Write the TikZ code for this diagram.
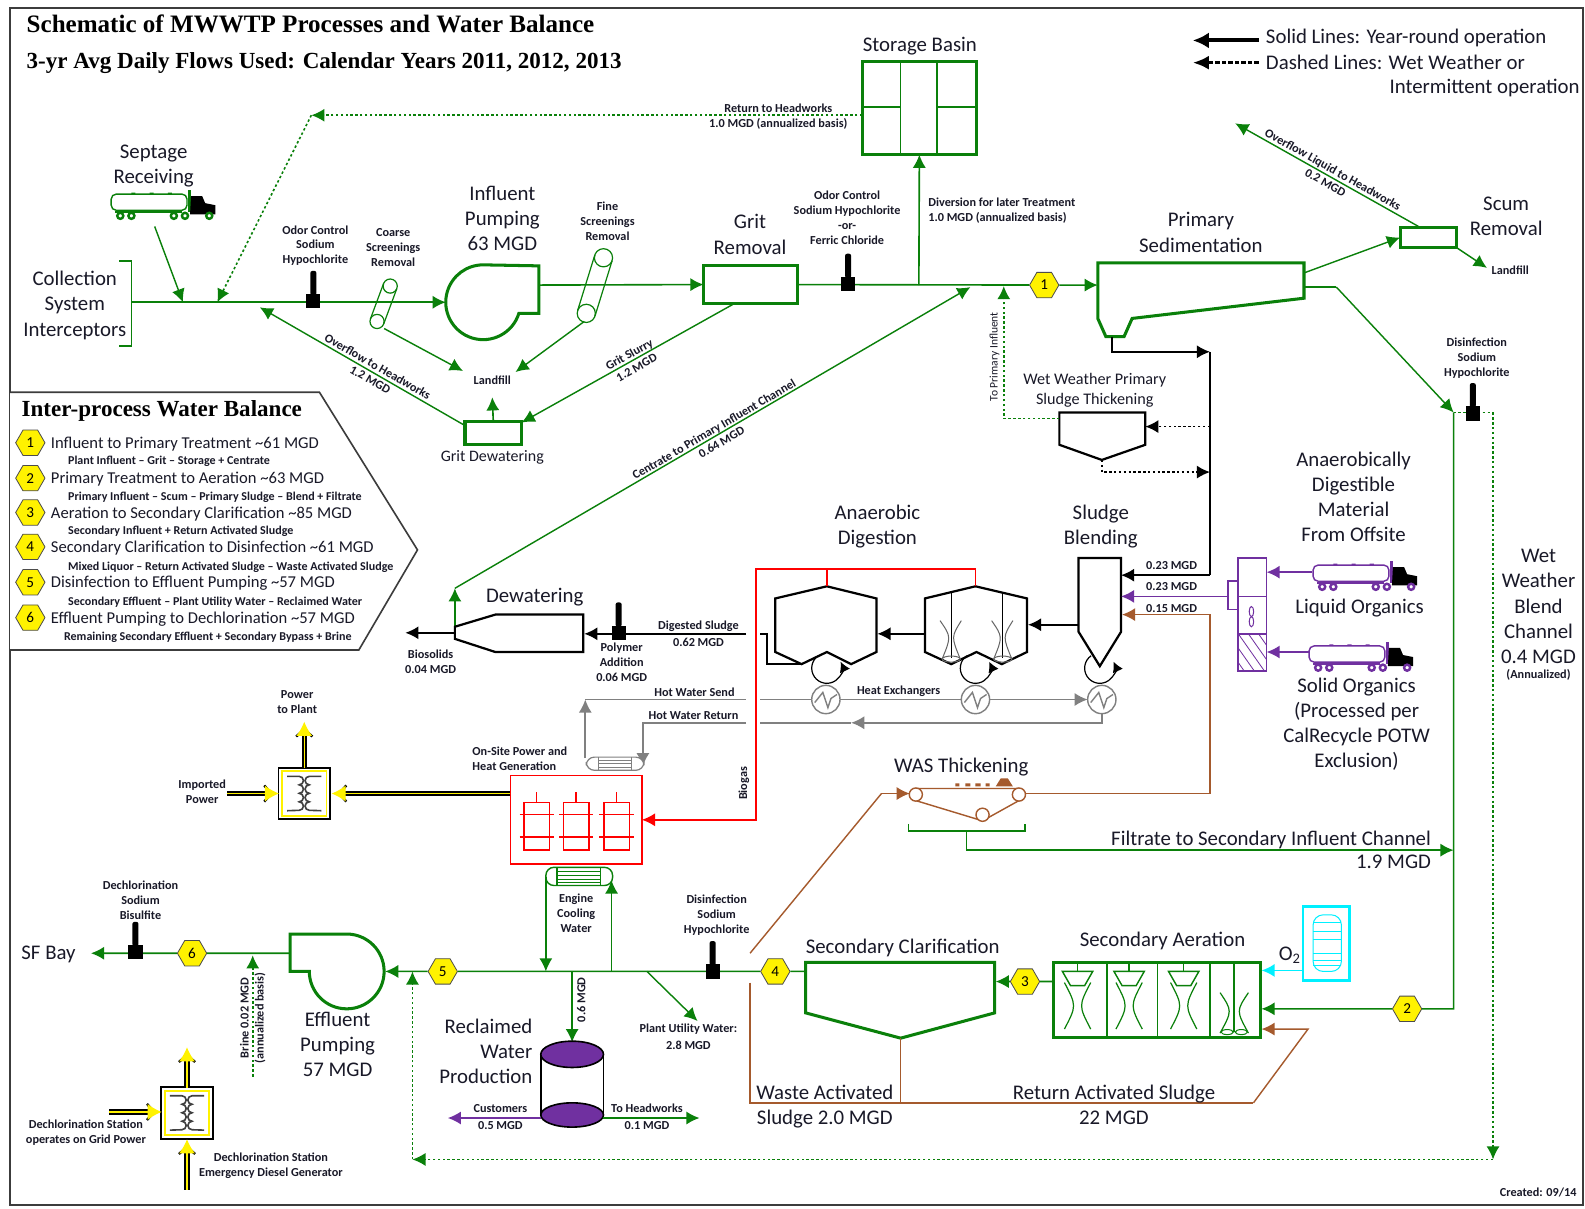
\documentclass[tikz,border=0pt]{standalone}
\usepackage{fontspec}
\setmainfont{Carlito}
\newfontfamily\serifbf{Liberation Serif}
\usetikzlibrary{arrows.meta,shapes.geometric,calc}
\definecolor{gn}{RGB}{10,128,10}
\definecolor{br}{RGB}{165,90,45}
\definecolor{pu}{RGB}{112,48,160}
\definecolor{gy}{RGB}{128,128,128}
\definecolor{ink}{RGB}{25,25,40}
\definecolor{frame}{RGB}{60,60,60}
\definecolor{cy}{RGB}{0,240,255}
\newcommand\bigf{\fontsize{10.3}{12.5}\selectfont}
\newcommand\midf{\fontsize{8.2}{9}\selectfont}
\newcommand\subf{\fontsize{5.95}{7.3}\selectfont\bfseries}
\newcommand\smf{\fontsize{6.05}{7.4}\selectfont\bfseries}
\tikzset{
 big/.style={font=\bigf,align=center,inner sep=0,text=ink},
 sm/.style={font=\smf,align=center,inner sep=0,text=ink},
 midt/.style={font=\midf,anchor=west,inner sep=0,text=ink,yshift=-.7pt},
 subt/.style={font=\subf,anchor=west,inner sep=0,text=ink,yshift=-.7pt},
 hexn/.style={shape=regular polygon,regular polygon sides=6,draw=black!70,line width=.4pt,fill=yellow,minimum size=14.5pt,inner sep=0,font=\fontsize{7.5}{8}\selectfont},
 gbox/.style={draw=gn,line width=1.5pt,inner sep=0,outer sep=0,fill=white},
 tip/.style={-{Latex[length=6.5pt,width=6.5pt]}},
 gl/.style={draw=gn,line width=.8pt},
 ga/.style={gl,tip},
 gd/.style={draw=gn,line width=.8pt,dash pattern=on 1.2pt off 1.2pt},
 gda/.style={gd,tip},
 bl/.style={draw=black,line width=.8pt},
 ba/.style={bl,tip},
 bd/.style={draw=black,line width=.8pt,dash pattern=on 1.2pt off 1.2pt,tip},
 rl/.style={draw=red,line width=.8pt},
 bra/.style={draw=br,line width=.7pt},
 pl/.style={draw=pu,line width=.8pt},
 gyl/.style={draw=gy,line width=.8pt},
 gb/.style={draw=gn,line width=1.5pt},
 kb/.style={draw=black,line width=1.1pt},
}
\newcommand\injector[2]{\begin{scope}[shift={(#1,#2)}]
 \fill[black] (-7,0) rectangle (7,-14);
 \fill[black,rounded corners=1pt] (-3,-13) -- (-3,-37) -- (3,-37) -- (3,-13) -- cycle;
\end{scope}}
\newcommand\conveyor[7]{%
 \draw[gl,line width=.6pt] (#1,#2) circle[radius=#5] (#3,#4) circle[radius=#5];
 \draw[gl,line width=.6pt] ({#1+#6},{#2+#7}) -- ({#3+#6},{#4+#7}) ({#1-#6},{#2-#7}) -- ({#3-#6},{#4-#7});}
\newcommand\truck[3]{\begin{scope}[shift={(#1,#2)}]
 \draw[#3,line width=.7pt,fill=white,rounded corners=2.5pt] (0,0) rectangle (75,16);
 \draw[#3,line width=1pt] (4,18) -- (70,18);
 \fill[#3] (20,-1.5) rectangle (24,0) (38,-1.5) rectangle (42,0) (56,-1.5) rectangle (60,0);
 \fill[#3] (76,-4) rectangle (79,18);
 \fill[black] (79,2) -- (90,2) -- (93,9) -- (103,11) -- (103,20) -- (78,20) -- cycle;
 \foreach \w in {9,20,62,73,97}{\draw[#3,line width=1.2pt,fill=white] (\w,21.5) circle[radius=3];}
\end{scope}}
\newcommand\mixcurve[5]{% cx, top, mid, bottom, dx outer
 \draw[gl,line width=.6pt] ({#1-#5},#2) .. controls ({#1-#5+12},#3) .. ({#1-#5},#4);
 \draw[gl,line width=.6pt] ({#1+#5},#2) .. controls ({#1+#5-12},#3) .. ({#1+#5},#4);}
\newcommand\aercell[1]{%
 \draw[gl,line width=.7pt] (#1,952) -- (#1,961);
 \draw[gl,line width=.7pt] (#1-15,961) -- (#1+15,961) -- (#1+7,975) -- (#1-7,975) -- cycle;
 \mixcurve{#1}{972}{995}{1018}{13}}
\newcommand\hxc[2]{%
 \draw[gyl,line width=.7pt,fill=white] (#1,#2) circle[radius=14];
 \draw[gyl,line width=.7pt] (#1-11,#2+3) -- (#1-3,#2-7) -- (#1+2,#2+8) -- (#1+5,#2-1) -- (#1+11,#2-5);}
\newcommand\spin[2]{\draw[black,line width=.6pt,-{Latex[length=5pt,width=5.5pt]}] (#1-8.6,#2-12.3) arc[start angle=125,end angle=385,radius=7.5pt];}
\newcommand\powerline[2]{%
 \draw[black,line width=2.6pt,shorten >=3pt,-{Straight Barb[length=3.5pt,width=8pt,line width=1.2pt]}] (#1) -- (#2);
 \draw[yellow,line width=.7pt,-{Latex[length=7pt,width=8pt]}] (#1) -- (#2);}
\newcommand\xfmr[2]{%
 \draw[black,line width=.8pt,fill=white] (#1-25.5,#2-25.5) rectangle (#1+25.5,#2+25.5);
 \draw[yellow,line width=.9pt] (#1-22,#2-22) rectangle (#1+22,#2+22);
 \draw[black!75,line width=.8pt] (#1-17,#2-17) -- (#1-5,#2-17) arc[start angle=90,end angle=-90,radius=2.1pt] arc[start angle=90,end angle=-90,radius=2.1pt] arc[start angle=90,end angle=-90,radius=2.1pt] arc[start angle=90,end angle=-90,radius=2.1pt] -- (#1-17,#2+17);
 \draw[black!75,line width=.8pt] (#1+17,#2-17) -- (#1+5,#2-17) arc[start angle=90,end angle=270,radius=2.1pt] arc[start angle=90,end angle=270,radius=2.1pt] arc[start angle=90,end angle=270,radius=2.1pt] arc[start angle=90,end angle=270,radius=2.1pt] -- (#1+17,#2+17);}
\newcommand\engine[1]{%
 \draw[red,line width=.7pt] (#1-12.5,794) rectangle (#1+12.5,841);
 \draw[red,line width=.7pt] (#1,794) -- (#1,783) (#1-17,806) -- (#1+17,806) (#1-17,828) -- (#1+17,828);}
\begin{document}
\begin{tikzpicture}[x=.5pt,y=-.5pt]
\useasboundingbox (0,0) rectangle (1568,1196);
\fill[white] (0,0) rectangle (1568,1196);
\draw[frame,line width=.9pt] (10,8) rectangle (1566,1192);

% ---- named junctions
\coordinate (cLeft) at (130,299); \coordinate (jSept) at (181,299); \coordinate (jRet) at (215,299);
\coordinate (jOver) at (257,304); \coordinate (pumpIn) at (441,299); \coordinate (pumpOut) at (533,282);
\coordinate (sept) at (153,224); \coordinate (retCorner) at (308,114);
\coordinate (jDiv) at (909,282); \coordinate (jPri) at (993,283); \coordinate (jCen) at (960,284);
\coordinate (priIn) at (1086,282); \coordinate (priOut) at (1290,284); \coordinate (priTop) at (1290,270);
\coordinate (bend) at (1322,284); \coordinate (jWet) at (1438,408); \coordinate (wetEnd) at (1477,408);
\coordinate (wetLow) at (1477,1147); \coordinate (wetLeft) at (408,1147); \coordinate (jRetLow) at (408,961);
\coordinate (lf1) at (458,367); \coordinate (lf2) at (510,368); \coordinate (lf3) at (487,393);
\coordinate (blendTop) at (1197,348); \coordinate (blendIn) at (1197,569);

% ---- title & legend
\node[font=\serifbf\bfseries\fontsize{12.4}{14}\selectfont,anchor=west,inner sep=0] (t1) at (26,24) {Schematic of MWWTP Processes and Water Balance};
\node[font=\serifbf\bfseries\fontsize{11.4}{14}\selectfont,anchor=west,inner sep=0] (t2) at (26,62) {3-yr Avg Daily Flows Used: Calendar Years 2011, 2012, 2013};
\coordinate (lg1a) at (1245,40); \coordinate (lg1b) at (1180,40); \coordinate (lg2a) at (1245,62); \coordinate (lg2b) at (1180,62);
\draw[black,line width=2pt,-{Latex[length=8pt,width=8pt]}] (lg1a) -- (lg1b);
\draw[black,line width=1.6pt,dash pattern=on 2.2pt off 1pt,-{Latex[length=8pt,width=7pt]}] (lg2a) -- (lg2b);
\node[big,anchor=west] (lg1) at (1252,38) {Solid Lines: Year-round operation};
\node[big,anchor=west] (lg2) at (1252,62) {Dashed Lines: Wet Weather or};
\node[big,anchor=east] (lg3) at (1563,87) {Intermittent operation};

% ---- storage basin
\node[big] (tStor) at (910,46) {Storage Basin};
\node[gbox,minimum width=56.5pt,minimum height=46pt] (storage) at (909.5,107) {};
\draw[gl,line width=.7pt] (891,61) -- (891,153) (927,61) -- (927,153) (853,106) -- (891,106) (927,106) -- (966,106);
\coordinate (storRet) at (853,114);
\draw[gda] (storRet) -- (retCorner);
\draw[gda] (retCorner) -- (jRet);
\node[sm] (tRet) at (770,115) {Return to Headworks\\1.0 MGD (annualized basis)};
\draw[ga] (jDiv) -- (storage.south);
\node[sm,align=left,anchor=west] (tDiv) at (918,208) {Diversion for later Treatment\\1.0 MGD (annualized basis)};

% ---- headworks
\node[big] (tSept) at (152,164) {Septage\\Receiving};
\truck{110}{192}{gn}
\draw[ga,line width=.7pt] (sept) -- (jSept);
\node[big] (tColl) at (74,302) {Collection\\System\\Interceptors};
\draw[gl] (118,258) -- (130,258) -- (130,342) -- (118,342);
\draw[ga] (cLeft) -- (pumpIn);
\node[sm] (tOdor) at (312,243) {Odor Control\\Sodium\\Hypochlorite};
\injector{310}{305}
\node[sm] (tCoarse) at (389,244.5) {Coarse\\Screenings\\Removal};
\conveyor{386}{283}{373}{318}{7}{6.6}{2.4}
\node[big] (tInf) at (497,216) {Influent\\Pumping\\63 MGD};
\draw[gb] (513.3,310) arc[start angle=-17.3,end angle=-270,radius=18.5pt] -- (533,263) -- (533,310) -- cycle;
\node[sm] (tFine) at (601,219) {Fine\\Screenings\\Removal};
\conveyor{597}{255}{580}{310}{9}{8.6}{2.7}
\node[big] (tGrit) at (742,232) {Grit\\Removal};
\node[gbox,minimum width=46.5pt,minimum height=18.5pt] (grit) at (742.5,281.5) {};
\draw[ga] (pumpOut) -- (grit.west);
\node[sm] (tOd2) at (838,215) {Odor Control\\Sodium Hypochlorite\\-or-\\Ferric Chloride};
\node[hexn] (h1) at (1033,282) {1};
\draw[gl] (grit.east) -- (h1);
\injector{839}{288}
\draw[ga] (h1) -- (priIn);
\coordinate (cs1) at (380,325); \draw[ga,line width=.7pt] (cs1) -- (lf1);
\coordinate (cs2) at (578,318); \draw[ga,line width=.7pt] (cs2) -- (lf2);
\node[sm] (tLand) at (487,376) {Landfill};
\node[gbox,minimum width=28pt,minimum height=11.5pt] (gritd) at (488,428.5) {};
\node[big] (tGd) at (487,452) {\fontsize{7.9}{9}\selectfont Grit Dewatering};
\draw[ga] (gritd.north) -- (lf3);
\coordinate (gs1) at (727,300); \coordinate (gs2) at (516,418);
\draw[ga,line width=.7pt] (gs1) -- (gs2);
\node[sm,rotate=29.2] (tSlurry) at (626,357) {Grit Slurry\\1.2 MGD};
\coordinate (od1) at (460,421);
\draw[ga,line width=.7pt] (od1) -- (jOver);
\node[sm,rotate=-30] (tOv) at (370,369) {Overflow to Headworks\\1.2 MGD};

% ---- centrate
\coordinate (cen0) at (450,620); \coordinate (cen1) at (450,582);
\draw[ga] (cen0) -- (cen1);
\draw[ga,line width=.7pt] (cen1) -- (jCen);
\node[sm,rotate=30.3] (tCen) at (710,431) {Centrate to Primary Influent Channel\\0.64 MGD};

% ---- primary
\node[big] (tPri) at (1188,230) {Primary\\Sedimentation};
\draw[gb,fill=white] (1086,260) -- (1290,260) -- (1290,295) -- (1120,315) -- (1112,333) -- (1094,333) -- (1086,315) -- cycle;
\node[gbox,minimum width=28pt,minimum height=10pt] (scum) at (1413,235) {};
\node[big] (tScum) at (1490,214) {Scum\\Removal};
\draw[ga,line width=.7pt] (priTop) -- (scum.west);
\coordinate (ovA) at (1405,225); \coordinate (ovB) at (1222,122); \coordinate (lfA) at (1441,245); \coordinate (lfB) at (1471,265);
\draw[ga,line width=.7pt] (ovA) -- (ovB);
\draw[ga,line width=.7pt] (lfA) -- (lfB);
\node[sm,rotate=-29.4] (tOvL) at (1315,174) {Overflow Liquid to Headworks\\0.2 MGD};
\node[sm] (tLf2) at (1494,267) {Landfill};
\draw[gl,line width=.7pt] (priOut) -- (bend);
\draw[ga,line width=.7pt] (bend) -- (jWet);
\node[sm] (tDis) at (1461,354) {Disinfection\\Sodium\\Hypochlorite};
\draw[gd] (jWet) -- (wetEnd);
\injector{1457}{416}
\draw[gda] (wetEnd) -- (wetLow);
\draw[gda] (wetLow) -- (wetLeft);
\draw[gda] (wetLeft) -- (jRetLow);
\node[big] (tWet) at (1522,600) {Wet\\Weather\\Blend\\Channel\\0.4 MGD};
\node[sm] (tAnn) at (1522,668) {(Annualized)};

% ---- sludge from primary
\coordinate (ps1) at (1100,333);
\draw[ba] (ps1) -- (1100,348) -- (blendTop);
\node[big,font=\fontsize{8}{9.6}\selectfont] (tWw) at (1083,386) {Wet Weather Primary\\Sludge Thickening};
\draw[kb] (1048,408) -- (1133,408) -- (1133,440) -- (1090,455) -- (1048,440) -- cycle;
\coordinate (thA) at (1197,422); \coordinate (thB) at (1133,422); \coordinate (thC) at (1090,455); \coordinate (thD) at (1197,467);
\draw[bd] (thA) -- (thB);
\draw[bd] (thC) |- (thD);
\coordinate (thE) at (1048,414);
\draw[gda] (thE) -- (993,414) -- (jPri);
\node[sm,rotate=90,font=\fontsize{5.7}{7}\selectfont] (tToP) at (984,353) {To Primary Influent};

% ---- blending, digestion
\node[big] (tBl) at (1089,521) {Sludge\\Blending};
\draw[kb] (1067,552) -- (1109,552) -- (1109,625) -- (1088,659) -- (1067,625) -- cycle;
\coordinate (bIn1) at (1109,569); \coordinate (bIn2) at (1109,590); \coordinate (bIn3) at (1110,608);
\draw[bl] (blendTop) -- (blendIn);
\draw[ba] (blendIn) -- (bIn1);
\draw[pl,tip] (1215,590) -- (bIn2);
\node[sm] (q1) at (1159,559) {0.23 MGD};
\node[sm] (q2) at (1159,580) {0.23 MGD};
\node[sm] (q3) at (1159,602) {0.15 MGD};
\node[big] (tAD) at (868,521) {Anaerobic\\Digestion};
\draw[kb] (767,592) -- (818,580) -- (867,592) -- (867,645) -- (842,657) -- (818,645) -- (793,657) -- (767,645) -- cycle;
\draw[kb] (915,592) -- (965,580) -- (1016,592) -- (1016,645) -- (991,657) -- (966,645) -- (941,657) -- (915,645) -- cycle;
\draw[black,line width=.7pt] (941,586) -- (941,651) (992,586) -- (992,651);
\draw[gray!80!black,line width=.5pt] (930,614) .. controls (941,630) .. (932,652) (951,614) .. controls (941,630) .. (950,652) (981,614) .. controls (992,630) .. (983,652) (1002,614) .. controls (992,630) .. (1001,652);
\draw[gray!80!black,line width=.5pt] (941,652) ellipse[x radius=9,y radius=3] (992,652) ellipse[x radius=9,y radius=3];
\coordinate (d1R) at (868,627); \coordinate (d2L) at (915,627); \coordinate (d2R) at (1017,618); \coordinate (blL) at (1067,618);
\draw[ba] (d2L) -- (d1R);
\draw[ba] (blL) -- (d2R);
\spin{818}{661}\spin{965}{661}\spin{1088}{661}
\draw[rl] (748,812) -- (748,563) -- (965,563) -- (965,580);
\draw[rl] (818,563) -- (818,580);
\node[sm,rotate=90] (tBio) at (736,775) {Biogas};
\coordinate (digOut) at (738,627); \coordinate (dewIn) at (578,627);
\draw[bl] (793,657) -- (759,657) -- (759,627) -- (752,627);
\draw[ba] (digOut) -- (dewIn);
\node[sm] (tDig) at (691,627) {Digested Sludge\\[1pt]0.62 MGD};

% ---- dewatering
\node[big] (tDew) at (529,591) {Dewatering};
\draw[kb] (450,620) -- (490,608) -- (577,608) -- (577,645) -- (490,645) -- (450,632) -- cycle;
\coordinate (dw) at (450,626); \coordinate (bio) at (401,626);
\draw[ba] (dw) -- (bio);
\node[sm] (tBs) at (426,655) {Biosolids\\0.04 MGD};
\injector{612}{633}
\node[sm] (tPol) at (615,655) {Polymer\\Addition\\0.06 MGD};

% ---- hot water
\coordinate (hxU1) at (579,750); \coordinate (hw1) at (579,692); \coordinate (hw2) at (738,692); \coordinate (hw3) at (752,692); \coordinate (hw4) at (1076,692);
\draw[gyl,tip] (hxU1) -- (hw1);
\draw[gyl] (hw1) -- (hw2);
\draw[gyl,tip] (hw3) -- (hw4);
\coordinate (hr1) at (1090,706); \coordinate (hr2) at (1090,715); \coordinate (hr3) at (842,715); \coordinate (hr4) at (752,715) ; \coordinate (hr5) at (738,715); \coordinate (hr6) at (636,715); \coordinate (hr7) at (636,758);
\draw[gyl,tip] (hr1) -- (hr2) -- (hr3);
\draw[gyl] (hr3) -- (hr4);
\draw[gyl,tip] (hr5) -- (hr6) -- (hr7);
\hxc{817}{692}\hxc{965}{692}\hxc{1090}{692}
\node[sm] (tHx) at (889,684) {Heat Exchangers};
\node[sm] (tHws) at (687,685) {Hot Water Send};
\node[sm] (tHwr) at (686,708) {Hot Water Return};
\draw[gyl,line width=.6pt,rounded corners=4pt,fill=white] (580,749) rectangle (637,762);
\draw[gyl,line width=.6pt] (592,749) -- (592,762) (625,749) -- (625,762) (592,752) -- (625,752) (592,755.5) -- (625,755.5) (592,759) -- (625,759);

% ---- CHP
\node[sm,align=left,anchor=west] (tChp) at (467,751) {On-Site Power and\\Heat Generation};
\node[draw=red,line width=.8pt,inner sep=0,outer sep=0,minimum width=65pt,minimum height=44pt] (chp) at (570,811) {};
\engine{531}\engine{570}\engine{610}
\coordinate (bgC) at (748,811);
\draw[rl,tip] (bgC) -- (chp.east);
\draw[gl,line width=.7pt,rounded corners=4pt,fill=white] (540,858) rectangle (606,876);
\draw[gl,line width=.7pt] (551,858) -- (551,876) (594,858) -- (594,876) (551,862) -- (594,862) (551,866) -- (594,866) (551,870) -- (594,870) (551,873) -- (594,873);
\node[sm] (tEng) at (570,903.5) {Engine\\Cooling\\Water};
\coordinate (ecA) at (540,868); \coordinate (ecB) at (540,961); \coordinate (ecC) at (605,961); \coordinate (ecD) at (605,871);
\draw[ga] (ecA) -- (ecB);
\draw[ga] (ecC) -- (ecD);

% ---- power
\coordinate (pwA) at (301,760); \coordinate (pwB) at (301,714); \coordinate (pwC) at (225,785); \coordinate (pwD) at (276,785); \coordinate (pwE) at (505,785); \coordinate (pwF) at (328,785);
\xfmr{301}{785}
\powerline{pwA}{pwB}\powerline{pwC}{pwD}\powerline{pwE}{pwF}
\node[sm] (tPtp) at (294,695) {Power\\to Plant};
\node[sm] (tImp) at (200,783) {Imported\\Power};
\coordinate (pxA) at (185,1076); \coordinate (pxB) at (185,1036); \coordinate (pxC) at (108,1100); \coordinate (pxD) at (160,1100); \coordinate (pxE) at (185,1177); \coordinate (pxF) at (185,1127);
\xfmr{185}{1101}
\powerline{pxA}{pxB}\powerline{pxC}{pxD}\powerline{pxE}{pxF}
\node[sm] (tDs1) at (85,1120.5) {Dechlorination Station\\operates on Grid Power};
\node[sm] (tDs2) at (268,1153.5) {Dechlorination Station\\Emergency Diesel Generator};

% ---- WAS
\node[big] (tWas) at (951,759) {WAS Thickening};
\draw[bra,fill=white] (906,780) -- (1008,780) -- (1014,786) -- (1008,792) -- (972,812) -- (906,792) -- (900,786) -- cycle;
\draw[bra,fill=white] (906,786) circle[radius=6.5] (1008,786) circle[radius=6.5] (972,806) circle[radius=6.5];
\fill[br] (985,778) -- (990,770) -- (997,770) -- (1002,778) -- cycle (955,775) rectangle (960,778) (965,775) rectangle (970,778) (945,775) rectangle (949,778) (975,775) rectangle (979,778);
\draw[gl,line width=.7pt] (899,815) -- (899,822) -- (1014,822) -- (1014,815);
\coordinate (fi0) at (956,822); \coordinate (fi1) at (956,841); \coordinate (fi2) at (1438,841);
\draw[ga] (fi0) -- (fi1) -- (fi2);
\node[big,anchor=east] (tFi1) at (1416,831) {Filtrate to Secondary Influent Channel};
\node[big,anchor=east] (tFi2) at (1416,853) {1.9 MGD};
\coordinate (was1) at (742,943); \coordinate (was2) at (872,785); \coordinate (was3) at (900,785);
\coordinate (was4) at (1014,785); \coordinate (was5) at (1197,785); \coordinate (was6) at (1197,608);
\draw[bra] (was1) -- (was2);
\draw[bra,tip] (was2) -- (was3);
\draw[bra,tip] (was4) -- (was5) -- (was6) -- (bIn3);

% ---- purple offsite
\node[big] (tOff) at (1339,491.5) {Anaerobically\\Digestible\\Material\\From Offsite};
\node[big] (tLiq) at (1345,602) {Liquid Organics};
\node[big] (tSol) at (1342,716.5) {Solid Organics\\(Processed per\\CalRecycle POTW\\Exclusion)};
\truck{1299}{559}{pu}\truck{1295}{639}{pu}
\draw[pl] (1225,552) rectangle (1253,664);
\draw[pl] (1225,590) -- (1253,590) (1225,627) -- (1253,627);
\draw[pl] (1225,575) -- (1215,575) -- (1215,603) -- (1225,603);
\begin{scope}
 \clip (1225,627) rectangle (1253,664);
 \foreach \i in {-40,-30,...,30}{\draw[pu,line width=.4pt] ({1225+\i},627) -- ({1225+\i+26},664);}
\end{scope}
\draw[pu,line width=.5pt] (1238,605) ellipse[x radius=2.2,y radius=5] (1238,615) ellipse[x radius=2.2,y radius=5];
\coordinate (liqA) at (1298,566); \coordinate (liqB) at (1253,566); \coordinate (solA) at (1295,645); \coordinate (solB) at (1253,645);
\draw[pl,tip] (liqA) -- (liqB);
\draw[pl,tip] (solA) -- (solB);

% ---- secondary
\node[big] (tAer) at (1150,931) {Secondary Aeration};
\node[gbox,minimum width=102.5pt,minimum height=37pt] (aer) at (1144.5,989) {};
\draw[gl,line width=.8pt] (1095,952) -- (1095,1026) (1145,952) -- (1145,1026) (1197,952) -- (1197,1026) (1221,952) -- (1221,1021);
\aercell{1066}\aercell{1117}\aercell{1171}
\mixcurve{1221}{982}{1000}{1022}{14}
\draw[gl,line width=.5pt] (1214,1021) ellipse[x radius=6,y radius=2.5] (1228,1021) ellipse[x radius=6,y radius=2.5];
\node[big,inner sep=0] (tO2) at (1276,945) {O\textsubscript{2}};
\draw[cy,line width=1.3pt] (1289,897) rectangle (1335,970);
\draw[cy,line width=.5pt,rounded corners=5pt] (1299,905) rectangle (1327,961);
\draw[cy,line width=.5pt] (1299,913) -- (1327,913) (1299,921) -- (1327,921) (1299,929) -- (1327,929) (1299,943) -- (1327,943) (1299,950) -- (1327,950) (1299,955) -- (1327,955);
\coordinate (oxA) at (1289,960); \coordinate (oxB) at (1248,960);
\draw[draw=cy,line width=.8pt,tip] (oxA) -- (oxB);
\node[hexn] (h2) at (1392,998) {2};
\coordinate (wetB) at (1438,998); \coordinate (aerIn) at (1248,998);
\draw[gl] (jWet) -- (wetB) -- (h2);
\draw[ga] (h2) -- (aerIn);
\node[hexn] (h3) at (1014,971) {3};
\coordinate (aerOut) at (1043,971); \coordinate (clIn) at (985,971);
\draw[gl] (aerOut) -- (h3);
\draw[ga] (h3) -- (clIn);
\node[big] (tCl) at (893,938) {Secondary Clarification};
\draw[gb,fill=white] (797,952) -- (984,952) -- (984,1002) -- (891,1027) -- (797,1002) -- cycle;
\node[hexn] (h4) at (767,961) {4};
\coordinate (clOut) at (797,961);
\draw[gl] (clOut) -- (h4);
\coordinate (ras0) at (891,1027); \coordinate (ras1) at (891,1091); \coordinate (ras2) at (1240,1091); \coordinate (ras3) at (1294,1018); \coordinate (ras4) at (1248,1018);
\coordinate (wasA) at (742,1091); \coordinate (wasB) at (742,972);
\draw[bra] (ras0) -- (ras1);
\draw[bra] (wasB) -- (wasA) -- (ras2);
\draw[bra,tip] (ras2) -- (ras3) -- (ras4);
\node[big] (tWa) at (816,1095) {Waste Activated\\Sludge 2.0 MGD};
\node[big] (tRa) at (1102,1093) {Return Activated Sludge\\22 MGD};

% ---- effluent line
\node[hexn] (h5) at (438,961) {5};
\coordinate (pumpE) at (381,961);
\draw[gl] (h4) -- (h5);
\draw[ga] (h5) -- (pumpE);
\injector{705}{968}
\node[sm] (tDis2) at (709,905) {Disinfection\\Sodium\\Hypochlorite};
\coordinate (rwA) at (566,961); \coordinate (rwB) at (566,1031); \coordinate (puA) at (640,961); \coordinate (puB) at (690,1010);
\draw[ga] (rwA) -- (rwB);
\draw[ga,line width=.7pt] (puA) -- (puB);
\node[sm,rotate=90] (t06) at (575,989) {0.6 MGD};
\node[sm] (tPu) at (681,1026) {Plant Utility Water:\\[1pt]2.8 MGD};
\draw[gb] (306,961) arc[start angle=180,end angle=450,radius=18.5pt] -- (287,924) -- (287,961) -- cycle;
\node[big] (tEff) at (334,1033) {Effluent\\Pumping\\57 MGD};
\node[hexn] (h6) at (190,943) {6};
\coordinate (effOut) at (287,943); \coordinate (bay) at (90,943);
\draw[gl] (effOut) -- (h6);
\draw[ga] (h6) -- (bay);
\injector{134}{949}
\node[sm] (tDc) at (139,891) {Dechlorination\\Sodium\\Bisulfite};
\node[big] (tBay) at (48,944) {SF Bay};
\coordinate (brA) at (250,1065); \coordinate (brB) at (250,945);
\draw[gda] (brA) -- (brB);
\node[sm,rotate=90] (tBr) at (250,1007) {Brine 0.02 MGD\\(annualized basis)};

% ---- reclaimed
\node[big,align=right,anchor=east] (tRec) at (527,1040) {Reclaimed\\Water\\Production};
\draw[black,line width=.8pt] (535,1043) -- (535,1103) (597,1043) -- (597,1103);
\draw[black,line width=.8pt,fill=pu] (566,1103) ellipse[x radius=31,y radius=12];
\draw[black,line width=.8pt,fill=pu] (566,1043) ellipse[x radius=31,y radius=13];
\coordinate (cuA) at (535,1106); \coordinate (cuB) at (443,1106); \coordinate (thA2) at (597,1106); \coordinate (thB2) at (692,1106);
\draw[pl,tip] (cuA) -- (cuB);
\draw[ga] (thA2) -- (thB2);
\node[sm] (tCu) at (495,1105.5) {Customers\\[1pt]0.5 MGD};
\node[sm] (tTh) at (640,1104.5) {To Headworks\\[1pt]0.1 MGD};

% ---- inter-process box
\draw[frame,line width=.8pt,fill=white] (10,388) -- (316,388) -- (413,544) -- (355,643) -- (10,643);
\node[font=\serifbf\bfseries\fontsize{11.4}{12}\selectfont,anchor=west,inner sep=0] (tIp) at (21,407) {Inter-process Water Balance};
\node[hexn] (k1) at (30,438) {1}; \node[midt] (m1) at (50,438) {Influent to Primary Treatment \textasciitilde61 MGD};
\node[subt] (s1) at (67,455) {Plant Influent – Grit – Storage + Centrate};
\node[hexn] (k2) at (30,473) {2}; \node[midt] (m2) at (50,473) {Primary Treatment to Aeration \textasciitilde63 MGD};
\node[subt] (s2) at (67,491) {Primary Influent – Scum – Primary Sludge – Blend + Filtrate};
\node[hexn] (k3) at (30,507) {3}; \node[midt] (m3) at (50,507) {Aeration to Secondary Clarification \textasciitilde85 MGD};
\node[subt] (s3) at (67,524) {Secondary Influent + Return Activated Sludge};
\node[hexn] (k4) at (30,541) {4}; \node[midt] (m4) at (50,541) {Secondary Clarification to Disinfection \textasciitilde61 MGD};
\node[subt] (s4) at (67,560) {Mixed Liquor – Return Activated Sludge – Waste Activated Sludge};
\node[hexn] (k5) at (30,576) {5}; \node[midt] (m5) at (50,576) {Disinfection to Effluent Pumping \textasciitilde57 MGD};
\node[subt] (s5) at (67,594) {Secondary Effluent – Plant Utility Water – Reclaimed Water};
\node[hexn] (k6) at (30,611) {6}; \node[midt] (m6) at (50,611) {Effluent Pumping to Dechlorination \textasciitilde57 MGD};
\node[subt] (s6) at (63,629) {Remaining Secondary Effluent + Secondary Bypass + Brine};
\node[sm,anchor=east] (tCr) at (1560,1180) {Created: 09/14};
\end{tikzpicture}
\end{document}
